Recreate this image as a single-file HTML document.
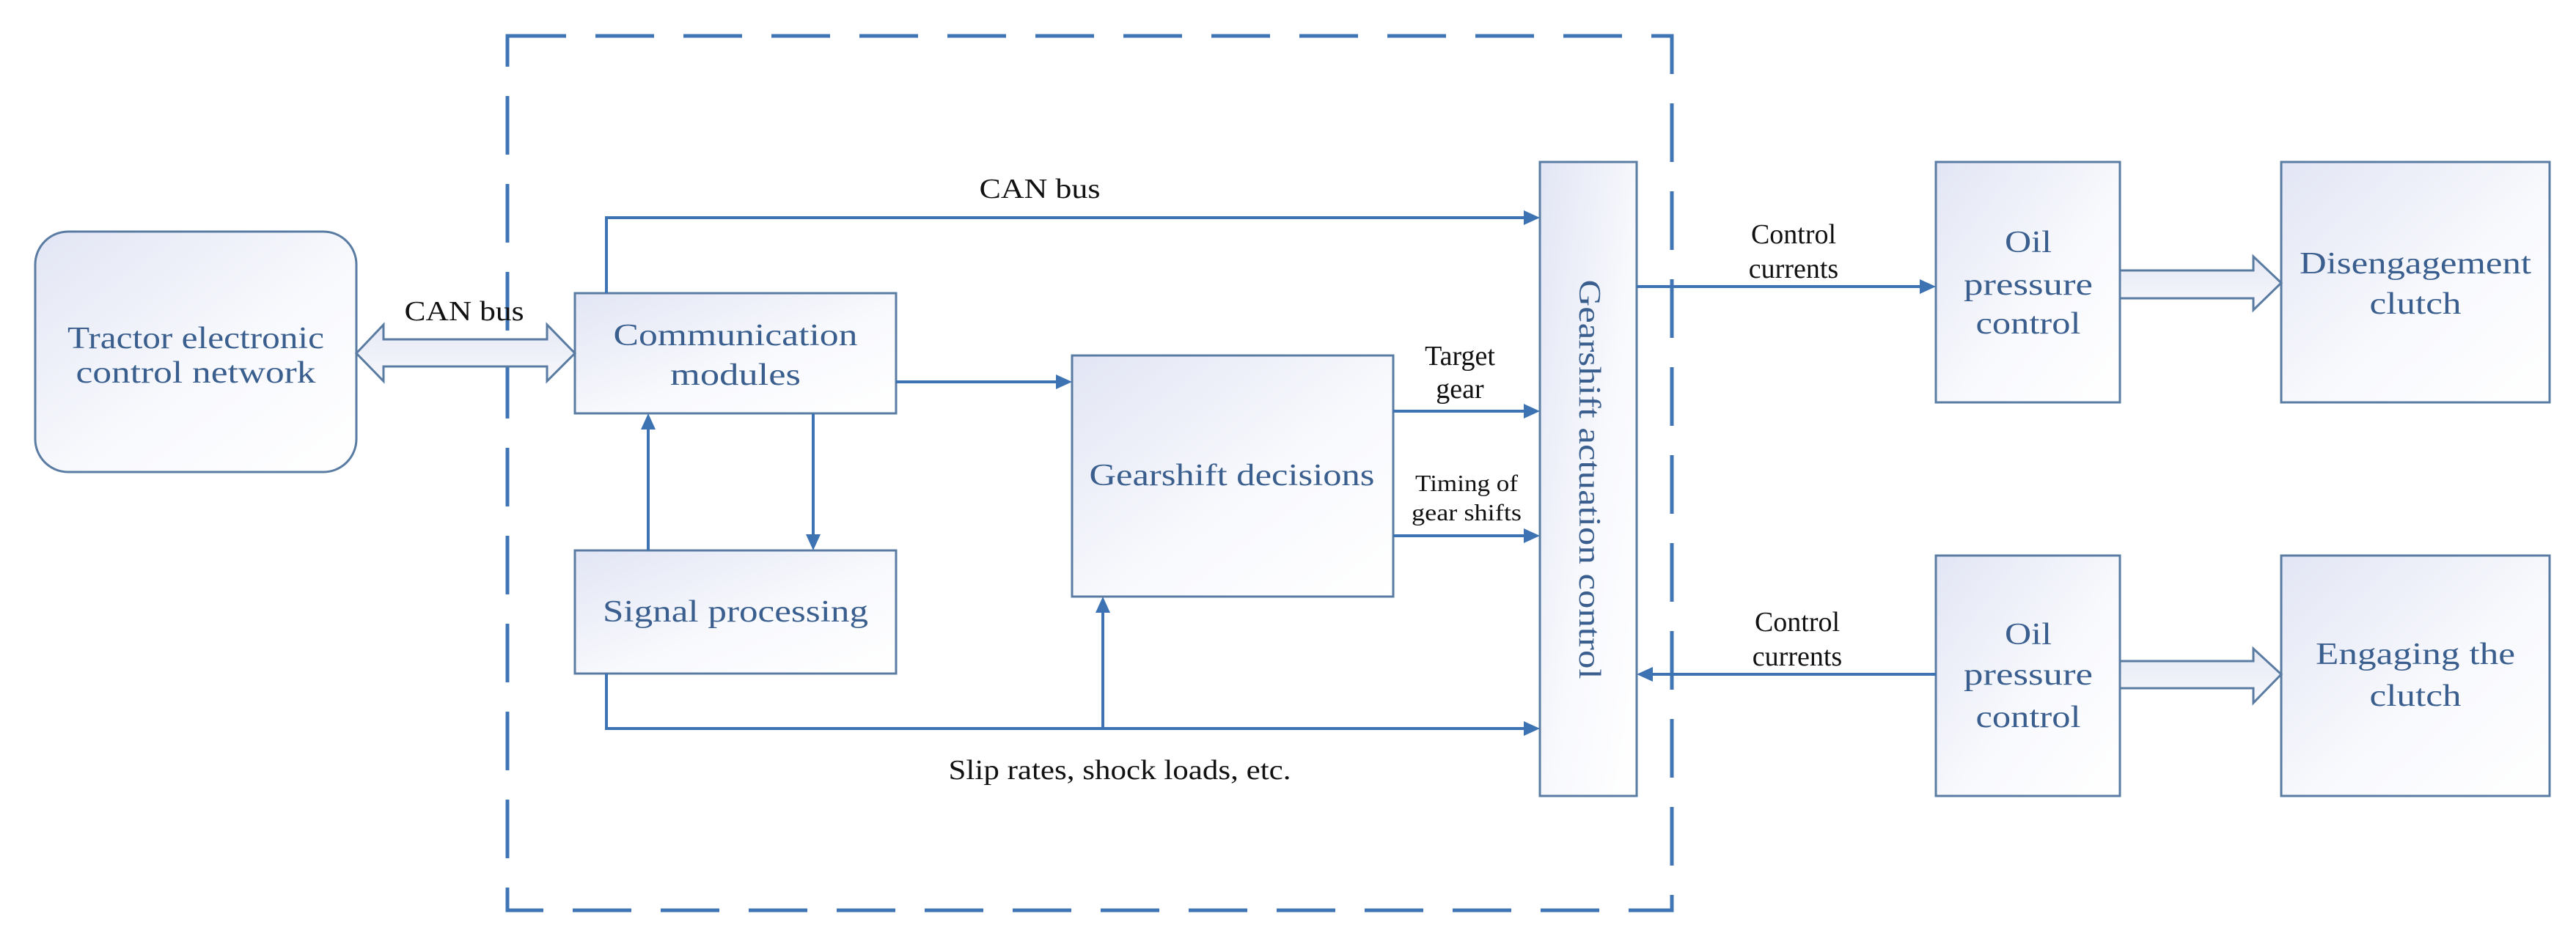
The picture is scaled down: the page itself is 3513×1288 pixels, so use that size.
<!DOCTYPE html>
<html><head><meta charset="utf-8"><style>
html,body{margin:0;padding:0;background:#fff;}
svg{display:block;}
.bt{font-family:"Liberation Serif",serif;font-size:42px;fill:#3a5f8e;text-anchor:middle;}
.lb{font-family:"Liberation Serif",serif;font-size:38px;fill:#111;text-anchor:middle;}
.box{stroke:#5a7ca3;stroke-width:3;fill:url(#g);}
.ln{stroke:#3d73b3;stroke-width:4;fill:none;}
.ah{fill:#3d73b3;}
</style></head><body>
<svg width="3513" height="1288" viewBox="0 0 3513 1288" xmlns="http://www.w3.org/2000/svg">
<defs>
<linearGradient id="g" x1="0" y1="0" x2="1" y2="1">
<stop offset="0" stop-color="#e2e5f4"/><stop offset="0.55" stop-color="#f8f9fd"/><stop offset="1" stop-color="#ffffff"/>
</linearGradient>
<linearGradient id="ga" x1="0" y1="0" x2="0" y2="1">
<stop offset="0" stop-color="#e6e9f5"/><stop offset="1" stop-color="#f7f8fc"/>
</linearGradient>
</defs>
<rect x="692" y="49" width="1588" height="1193" fill="none" stroke="#3f74b5" stroke-width="5" stroke-dasharray="80 40"/>

<rect class="box" x="48" y="316" width="438" height="328" rx="45"/>
<rect class="box" x="784" y="400" width="438" height="164"/>
<rect class="box" x="784" y="751" width="438" height="168"/>
<rect class="box" x="1462" y="485" width="438" height="329"/>
<rect class="box" x="2100" y="221" width="132" height="865"/>
<rect class="box" x="2640" y="221" width="251" height="328"/>
<rect class="box" x="3111" y="221" width="366" height="328"/>
<rect class="box" x="2640" y="758" width="251" height="328"/>
<rect class="box" x="3111" y="758" width="366" height="328"/>

<polygon points="486,482 523,443 523,463 746,463 746,443 784,482 746,520 746,500 523,500 523,520" fill="url(#ga)" stroke="#5a7ca3" stroke-width="3"/>
<polygon points="2891,369 3073,369 3073,350 3111,386 3073,423 3073,407 2891,407" fill="url(#ga)" stroke="#5a7ca3" stroke-width="3"/>
<polygon points="2891,902 3073,902 3073,885 3111,920 3073,959 3073,939 2891,939" fill="url(#ga)" stroke="#5a7ca3" stroke-width="3"/>

<polyline class="ln" points="827,400 827,297 2080,297"/>
<polygon class="ah" points="2100,297 2078,287 2078,307"/>
<line class="ln" x1="1222" y1="521" x2="1442" y2="521"/>
<polygon class="ah" points="1462,521 1440,511 1440,531"/>
<line class="ln" x1="884" y1="751" x2="884" y2="584"/>
<polygon class="ah" points="884,564 874,586 894,586"/>
<line class="ln" x1="1109" y1="564" x2="1109" y2="731"/>
<polygon class="ah" points="1109,751 1099,729 1119,729"/>
<polyline class="ln" points="827,919 827,994 2080,994"/>
<polygon class="ah" points="2100,994 2078,984 2078,1004"/>
<line class="ln" x1="1504" y1="994" x2="1504" y2="834"/>
<polygon class="ah" points="1504,814 1494,836 1514,836"/>
<line class="ln" x1="1900" y1="561" x2="2080" y2="561"/>
<polygon class="ah" points="2100,561 2078,551 2078,571"/>
<line class="ln" x1="1900" y1="731" x2="2080" y2="731"/>
<polygon class="ah" points="2100,731 2078,721 2078,741"/>
<line class="ln" x1="2232" y1="391" x2="2620" y2="391"/>
<polygon class="ah" points="2640,391 2618,381 2618,401"/>
<line class="ln" x1="2640" y1="920" x2="2252" y2="920"/>
<polygon class="ah" points="2232,920 2254,910 2254,930"/>

<text class="bt" x="267" y="475" textLength="350" lengthAdjust="spacingAndGlyphs">Tractor electronic</text>
<text class="bt" x="267" y="522" textLength="327" lengthAdjust="spacingAndGlyphs">control network</text>
<text class="bt" x="1003" y="471" textLength="333" lengthAdjust="spacingAndGlyphs">Communication</text>
<text class="bt" x="1003" y="525" textLength="178" lengthAdjust="spacingAndGlyphs">modules</text>
<text class="bt" x="1003" y="848" textLength="362" lengthAdjust="spacingAndGlyphs">Signal processing</text>
<text class="bt" x="1680" y="662" textLength="389" lengthAdjust="spacingAndGlyphs">Gearshift decisions</text>
<text class="bt" x="2766" y="344" textLength="64" lengthAdjust="spacingAndGlyphs">Oil</text>
<text class="bt" x="2766" y="402" textLength="176" lengthAdjust="spacingAndGlyphs">pressure</text>
<text class="bt" x="2766" y="455" textLength="143" lengthAdjust="spacingAndGlyphs">control</text>
<text class="bt" x="2766" y="879" textLength="64" lengthAdjust="spacingAndGlyphs">Oil</text>
<text class="bt" x="2766" y="934" textLength="176" lengthAdjust="spacingAndGlyphs">pressure</text>
<text class="bt" x="2766" y="992" textLength="143" lengthAdjust="spacingAndGlyphs">control</text>
<text class="bt" x="3294" y="373" textLength="316" lengthAdjust="spacingAndGlyphs">Disengagement</text>
<text class="bt" x="3294" y="428" textLength="125" lengthAdjust="spacingAndGlyphs">clutch</text>
<text class="bt" x="3294" y="906" textLength="272" lengthAdjust="spacingAndGlyphs">Engaging the</text>
<text class="bt" x="3294" y="963" textLength="125" lengthAdjust="spacingAndGlyphs">clutch</text>
<text class="bt" transform="translate(2168,654) rotate(90)" x="0" y="14" textLength="545" lengthAdjust="spacingAndGlyphs">Gearshift actuation control</text>

<text class="lb" x="1418" y="270" textLength="165" lengthAdjust="spacingAndGlyphs">CAN bus</text>
<text class="lb" x="633" y="437" textLength="163" lengthAdjust="spacingAndGlyphs">CAN bus</text>
<text class="lb" x="1991" y="498">Target</text>
<text class="lb" x="1991" y="543">gear</text>
<text class="lb" x="2000" y="670" style="font-size:32px" textLength="140" lengthAdjust="spacingAndGlyphs">Timing of</text>
<text class="lb" x="2000" y="710" style="font-size:32px" textLength="150" lengthAdjust="spacingAndGlyphs">gear shifts</text>
<text class="lb" x="2446" y="332">Control</text>
<text class="lb" x="2446" y="379">currents</text>
<text class="lb" x="2451" y="861">Control</text>
<text class="lb" x="2451" y="908">currents</text>
<text class="lb" x="1527" y="1063" textLength="467" lengthAdjust="spacingAndGlyphs">Slip rates, shock loads, etc.</text>
</svg>
</body></html>
